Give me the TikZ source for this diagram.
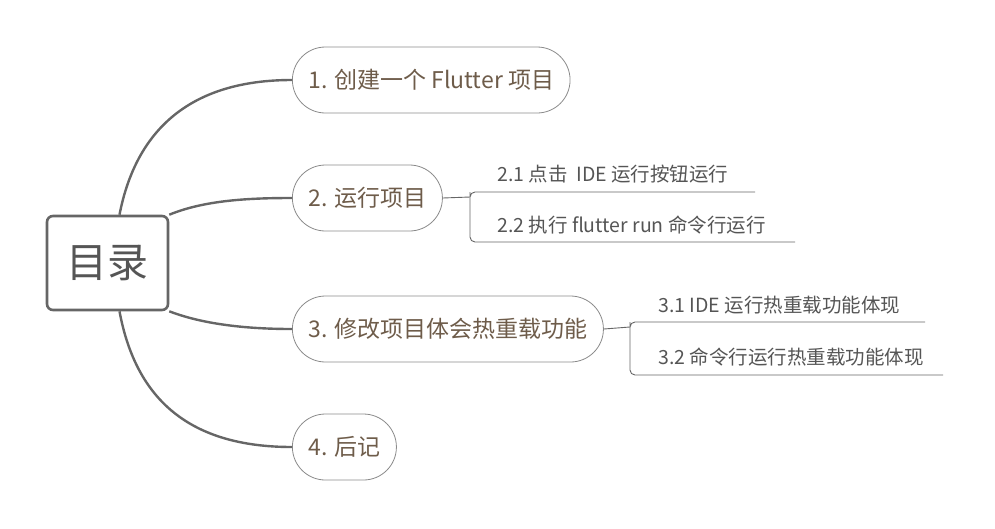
\documentclass[tikz,border=0pt]{standalone}
\usepackage{fontspec}
\setmainfont{Noto Sans CJK SC}
\usepackage{tikz}
\usetikzlibrary{calc}

\definecolor{linegray}{HTML}{666666}
\definecolor{pillgray}{HTML}{8A8A8A}
\definecolor{topicbrown}{HTML}{6E5C4A}
\definecolor{subgray}{HTML}{555555}

\tikzset{
  rootbox/.style={draw=linegray, line width=2.6pt, rounded corners=6pt,
    minimum width=121pt, minimum height=94pt, inner sep=0pt,
    text=subgray, font=\fontsize{41}{45}\selectfont},
  topic/.style={draw=pillgray, line width=0.8pt, rounded corners=33pt,
    minimum height=66pt, inner xsep=16pt, anchor=west,
    text=topicbrown, font=\fontsize{23}{27}\selectfont},
  subtopic/.style={anchor=base west, inner sep=0pt, text=subgray,
    font=\fontsize{19.5}{23}\selectfont},
  mainline/.style={draw=linegray, line width=2.4pt},
  subline/.style={draw=linegray, line width=0.9pt}
}

\begin{document}
\begin{tikzpicture}[x=1pt,y=-1pt]
  \useasboundingbox (0,0) rectangle (995,528);

  \node[rootbox] (root) at (107.5,263) {目录};

  \node[topic] (t1) at (292,80) {1. 创建一个 Flutter 项目};
  \node[topic] (t2) at (292,198) {2. 运行项目};
  \node[topic] (t3) at (292,329) {3. 修改项目体会热重载功能};
  \node[topic] (t4) at (292,447) {4. 后记};

  \draw[mainline] ([xshift=12pt]root.north) .. controls (136,130) and (190,80) .. (t1.west);
  \draw[mainline] (root.north east) .. controls (205,200) and (250,198) .. (t2.west);
  \draw[mainline] (root.south east) .. controls (205,325) and (250,329) .. (t3.west);
  \draw[mainline] ([xshift=12pt]root.south) .. controls (136,400) and (190,447) .. (t4.west);

  % sub topics of 2
  \node[subtopic] (s21) at (497,181) {2.1 点击\ \ IDE 运行按钮运行};
  \node[subtopic] (s22) at (497,232) {2.2 执行 flutter run 命令行运行};
  \coordinate (b2) at (470,197);
  \coordinate (e21) at (755,192);
  \coordinate (e22) at (795,242);
  \draw[subline] (t2.east) -- (b2);
  \draw[subline, rounded corners=5pt] (e21) -| (b2) |- (e22);

  % sub topics of 3
  \node[subtopic] (s31) at (658,312) {3.1 IDE 运行热重载功能体现};
  \node[subtopic] (s32) at (658,364) {3.2 命令行运行热重载功能体现};
  \coordinate (b3) at (630,327);
  \coordinate (e31) at (925,322);
  \coordinate (e32) at (943,375);
  \draw[subline] (t3.east) -- (b3);
  \draw[subline, rounded corners=5pt] (e31) -| (b3) |- (e32);
\end{tikzpicture}
\end{document}
